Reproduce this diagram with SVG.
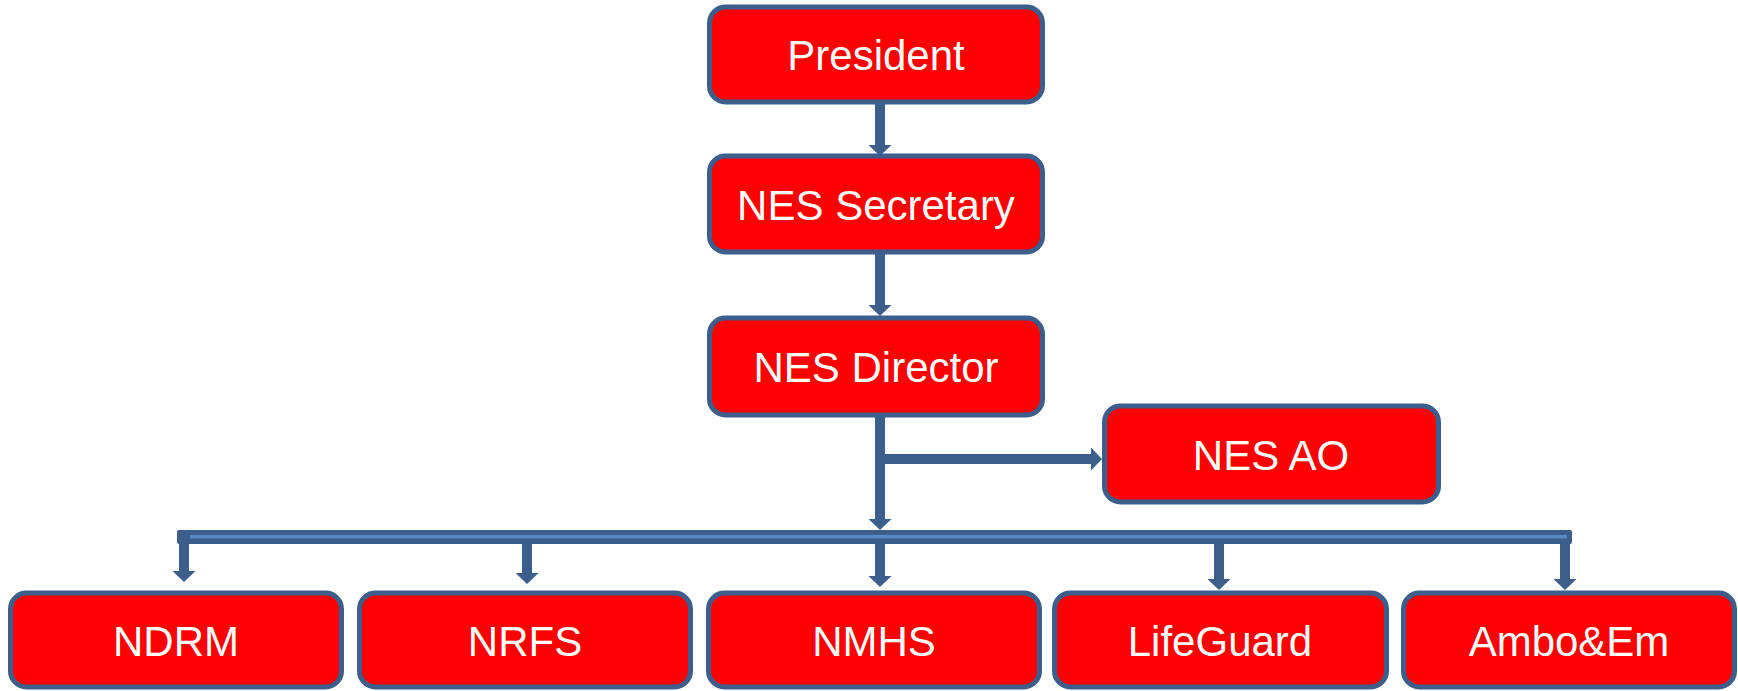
<svg xmlns="http://www.w3.org/2000/svg" width="1738" height="691" viewBox="0 0 1738 691">
<defs>
<style>
.box{fill:#ff0000;stroke:#3b5e8c;stroke-width:5}
.lbl{font-family:"Liberation Sans",Arial,sans-serif;font-size:42px;fill:#ffffff;text-anchor:middle}
.conn{stroke:#3b5e8c;stroke-width:10;fill:none}
</style>
<marker id="ah" markerUnits="userSpaceOnUse" markerWidth="11" markerHeight="23" refX="0" refY="11.5" orient="auto" viewBox="0 0 11 23">
<path d="M0,0 L11,11.5 L0,23 z" fill="#3b5e8c"/>
</marker>
</defs>
<g id="connectors">
<line class="conn" x1="880" y1="103" x2="880" y2="145" marker-end="url(#ah)"/>
<line class="conn" x1="880" y1="252" x2="880" y2="305" marker-end="url(#ah)"/>
<line class="conn" x1="880" y1="416" x2="880" y2="519" marker-end="url(#ah)"/>
<line class="conn" x1="880" y1="459" x2="1091" y2="459" marker-end="url(#ah)"/>
<rect x="177" y="530" width="1395" height="14" rx="2" fill="#3b5e8c"/>
<rect x="190" y="535" width="1377" height="3.5" fill="#5a88c2"/>
<line class="conn" x1="184" y1="530" x2="184" y2="571" marker-end="url(#ah)"/>
<line class="conn" x1="527" y1="540" x2="527" y2="573" marker-end="url(#ah)"/>
<line class="conn" x1="880" y1="540" x2="880" y2="576" marker-end="url(#ah)"/>
<line class="conn" x1="1219" y1="540" x2="1219" y2="579" marker-end="url(#ah)"/>
<line class="conn" x1="1565" y1="540" x2="1565" y2="579" marker-end="url(#ah)"/>
</g>
<g id="president"><rect class="box" x="709.5" y="7" width="333" height="95" rx="16"/><text class="lbl" x="876" y="70">President</text></g>
<g id="secretary"><rect class="box" x="709.5" y="156" width="333" height="96" rx="16"/><text class="lbl" x="876" y="220">NES Secretary</text></g>
<g id="director"><rect class="box" x="709.5" y="318" width="333" height="97" rx="16"/><text class="lbl" x="876" y="382">NES Director</text></g>
<g id="nes-ao"><rect class="box" x="1104.5" y="406" width="334" height="96" rx="16"/><text class="lbl" x="1271" y="470">NES AO</text></g>
<g id="ndrm"><rect class="box" x="10.5" y="593" width="331" height="94" rx="16"/><text class="lbl" x="176" y="656">NDRM</text></g>
<g id="nrfs"><rect class="box" x="359.5" y="593" width="331" height="94" rx="16"/><text class="lbl" x="525" y="656">NRFS</text></g>
<g id="nmhs"><rect class="box" x="708.5" y="593" width="331" height="94" rx="16"/><text class="lbl" x="874" y="656">NMHS</text></g>
<g id="lifeguard"><rect class="box" x="1054.5" y="593" width="332" height="94" rx="16"/><text class="lbl" x="1220" y="656">LifeGuard</text></g>
<g id="ambo"><rect class="box" x="1403.5" y="593" width="331" height="94" rx="16"/><text class="lbl" x="1569" y="656">Ambo&amp;Em</text></g>
</svg>
